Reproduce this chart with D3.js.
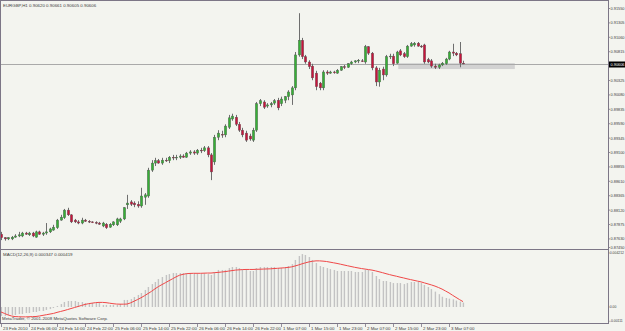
<!DOCTYPE html>
<html>
<head>
<meta charset="utf-8">
<script src="https://cdn.jsdelivr.net/npm/d3@7"></script>
<style>
  body { margin: 0; background: #f3f4ef; }
  svg { display: block; font-family: "Liberation Sans", Arial, sans-serif; }
</style>
</head>
<body>
<svg id="chart" width="625" height="331"></svg>
<script>
// EURGBP H1 candles, 23 Feb 2010 22:00 -> 3 Mar 2010 11:00
const opens = [
  0.8771,0.8765,0.8763,0.8763,0.8766,0.8768,0.8768,0.8773,0.8770,0.8773,
  0.8766,0.8775,0.8771,0.8773,0.8775,0.8778,0.8782,0.8795,0.8799,0.8812,
  0.8804,0.8795,0.8792,0.8790,0.8795,0.8793,0.8792,0.8791,0.8790,0.8785,
  0.8788,0.8783,0.8787,0.8787,0.8793,0.8797,0.8821,0.8826,0.8824,0.8822,
  0.8819,0.8834,0.8836,0.8880,0.8892,0.8896,0.8892,0.8897,0.8896,0.8902,
  0.8901,0.8902,0.8904,0.8902,0.8909,0.8911,0.8909,0.8914,0.8913,0.8918,
  0.8906,0.8894,0.8936,0.8941,0.8940,0.8953,0.8967,0.8970,0.8958,0.8948,
  0.8943,0.8938,0.8931,0.8948,0.8993,0.8996,0.8989,0.8991,0.8994,0.8999,
  0.8993,0.8999,0.9005,0.9008,0.9020,0.9076,0.9101,0.9073,0.9064,0.9057,
  0.9045,0.9028,0.9020,0.9047,0.9045,0.9047,0.9045,0.9050,0.9056,0.9055,
  0.9061,0.9064,0.9066,0.9066,0.9064,0.9090,0.9079,0.9054,0.9030,0.9052,
  0.9042,0.9073,0.9074,0.9062,0.9083,0.9078,0.9073,0.9091,0.9093,0.9096,
  0.9091,0.9093,0.9068,0.9066,0.9057,0.9055,0.9059,0.9061,0.9069,0.9081,
  0.9079,0.9078,0.90620
];
const highs = [
  0.8775,0.8766,0.8766,0.8768,0.8771,0.8775,0.8775,0.8775,0.8775,0.8775,
  0.8777,0.8777,0.8775,0.8790,0.8782,0.8787,0.8797,0.8804,0.8814,0.8816,
  0.8805,0.8797,0.8795,0.8799,0.8797,0.8795,0.8793,0.8793,0.8792,0.8792,
  0.8790,0.8790,0.8793,0.8799,0.8799,0.8817,0.8838,0.8829,0.8827,0.8827,
  0.8850,0.8841,0.8884,0.8897,0.8901,0.8899,0.8901,0.8901,0.8904,0.8906,
  0.8906,0.8907,0.8907,0.8911,0.8914,0.8914,0.8916,0.8918,0.8921,0.8921,
  0.8909,0.8940,0.8948,0.8947,0.8958,0.8974,0.8976,0.8974,0.8962,0.8952,
  0.8947,0.8942,0.8952,0.8996,0.9001,0.8999,0.8994,0.8996,0.9001,0.9003,
  0.9005,0.9006,0.9016,0.9023,0.9081,0.9147,0.9105,0.9076,0.9067,0.9061,
  0.9049,0.9030,0.9050,0.9050,0.9049,0.9049,0.9052,0.9057,0.9059,0.9062,
  0.9066,0.9067,0.9069,0.9069,0.9093,0.9091,0.9081,0.9057,0.9054,0.9056,
  0.9076,0.9078,0.9078,0.9083,0.9086,0.9081,0.9093,0.9098,0.9098,0.9098,
  0.9093,0.9095,0.9071,0.9069,0.9061,0.9061,0.9064,0.9071,0.9083,0.9095,
  0.9081,0.9098,0.90661
];
const lows = [
  0.8761,0.8760,0.8761,0.8761,0.8765,0.8766,0.8766,0.8770,0.8768,0.8766,
  0.8765,0.8770,0.8768,0.8770,0.8773,0.8777,0.8780,0.8794,0.8797,0.8802,
  0.8790,0.8790,0.8788,0.8788,0.8792,0.8790,0.8790,0.8788,0.8787,0.8783,
  0.8780,0.8782,0.8785,0.8785,0.8790,0.8795,0.8814,0.8819,0.8817,0.8816,
  0.8816,0.8821,0.8833,0.8877,0.8887,0.8891,0.8889,0.8894,0.8892,0.8897,
  0.8897,0.8899,0.8901,0.8901,0.8906,0.8906,0.8906,0.8909,0.8911,0.8902,
  0.8863,0.8889,0.8931,0.8935,0.8936,0.8950,0.8964,0.8955,0.8945,0.8936,
  0.8928,0.8930,0.8928,0.8945,0.8989,0.8984,0.8986,0.8987,0.8991,0.8982,
  0.8989,0.8994,0.8999,0.8991,0.9016,0.9073,0.9069,0.9061,0.9052,0.9033,
  0.9016,0.9016,0.9016,0.9042,0.9044,0.9044,0.9044,0.9049,0.9052,0.9054,
  0.9059,0.9062,0.9062,0.9064,0.9061,0.9076,0.9050,0.9023,0.9022,0.9033,
  0.9039,0.9069,0.9057,0.9061,0.9074,0.9071,0.9071,0.9090,0.9090,0.9090,
  0.9088,0.9061,0.9062,0.9054,0.9052,0.9052,0.9057,0.9059,0.9067,0.9074,
  0.9074,0.9055,0.90605
];
const closes = [
  0.8765,0.8763,0.8765,0.8766,0.8768,0.8770,0.8773,0.8771,0.8773,0.8768,
  0.8775,0.8771,0.8773,0.8775,0.8780,0.8783,0.8795,0.8800,0.8812,0.8804,
  0.8792,0.8792,0.8790,0.8795,0.8793,0.8792,0.8791,0.8790,0.8788,0.8790,
  0.8782,0.8788,0.8792,0.8797,0.8797,0.8816,0.8824,0.8822,0.8821,0.8819,
  0.8836,0.8838,0.8880,0.8892,0.8896,0.8892,0.8897,0.8896,0.8902,0.8901,
  0.8902,0.8904,0.8902,0.8909,0.8911,0.8909,0.8914,0.8913,0.8918,0.8906,
  0.8877,0.8936,0.8943,0.8940,0.8955,0.8969,0.8972,0.8958,0.8948,0.8940,
  0.8931,0.8933,0.8948,0.8993,0.8998,0.8987,0.8991,0.8993,0.8998,0.8986,
  0.9001,0.9005,0.9013,0.9020,0.9076,0.9101,0.9073,0.9064,0.9056,0.9037,
  0.9022,0.9020,0.9047,0.9045,0.9047,0.9046,0.9050,0.9056,0.9055,0.9061,
  0.9064,0.9066,0.9067,0.9065,0.9090,0.9079,0.9054,0.9030,0.9050,0.9042,
  0.9073,0.9074,0.9061,0.9081,0.9076,0.9073,0.9091,0.9095,0.9096,0.9091,
  0.9090,0.9064,0.9064,0.9057,0.9055,0.9059,0.9062,0.9069,0.9081,0.9079,
  0.9076,0.9062,0.90606
];

// MACD(12,26,9) main (histogram) and signal, one value per bar
const macdMain = [
  -0.00070,-0.00070,-0.00062,-0.00062,-0.00062,-0.00055,-0.00055,-0.00047,-0.00047,-0.00039,
  -0.00039,-0.00031,-0.00031,-0.00023,-0.00016,-0.00008,0.00008,0.00023,0.00039,0.00047,
  0.00047,0.00047,0.00039,0.00039,0.00031,0.00031,0.00031,0.00031,0.00031,0.00016,
  0.00016,0.00016,0.00016,0.00016,0.00023,0.00055,0.00055,0.00062,0.00078,0.00094,
  0.00109,0.00133,0.00156,0.00179,0.00195,0.00218,0.00234,0.00250,0.00257,0.00265,
  0.00265,0.00265,0.00265,0.00265,0.00265,0.00262,0.00260,0.00260,0.00262,0.00257,
  0.00250,0.00273,0.00289,0.00289,0.00289,0.00304,0.00312,0.00312,0.00304,0.00296,
  0.00289,0.00281,0.00281,0.00304,0.00312,0.00312,0.00312,0.00312,0.00312,0.00304,
  0.00304,0.00312,0.00320,0.00335,0.00367,0.00398,0.00413,0.00406,0.00390,0.00367,
  0.00343,0.00320,0.00312,0.00304,0.00296,0.00289,0.00281,0.00281,0.00281,0.00281,
  0.00281,0.00273,0.00273,0.00273,0.00289,0.00289,0.00273,0.00242,0.00218,0.00203,
  0.00203,0.00195,0.00187,0.00187,0.00187,0.00179,0.00187,0.00195,0.00195,0.00195,
  0.00187,0.00172,0.00156,0.00140,0.00120,0.00100,0.00080,0.00070,0.00065,0.00060,
  0.00050,0.00042,0.000347
];
const macdSignal = [
  -0.00039,-0.00050,-0.00062,-0.00070,-0.00075,-0.00076,-0.00077,-0.00077,-0.00076,-0.00075,
  -0.00074,-0.00070,-0.00065,-0.00060,-0.00055,-0.00050,-0.00042,-0.00035,-0.00028,-0.00020,
  -0.00012,-0.00004,0.00004,0.00012,0.00020,0.00026,0.00030,0.00034,0.00036,0.00036,
  0.00034,0.00030,0.00026,0.00023,0.00022,0.00022,0.00023,0.00032,0.00045,0.00058,
  0.00072,0.00088,0.00105,0.00122,0.00142,0.00160,0.00175,0.00190,0.00205,0.00220,
  0.00235,0.00248,0.00255,0.00260,0.00262,0.00263,0.00263,0.00263,0.00264,0.00265,
  0.00265,0.00268,0.00270,0.00273,0.00276,0.00280,0.00284,0.00288,0.00290,0.00292,
  0.00293,0.00293,0.00293,0.00294,0.00295,0.00296,0.00297,0.00298,0.00300,0.00302,
  0.00304,0.00306,0.00309,0.00313,0.00320,0.00328,0.00337,0.00345,0.00352,0.00357,
  0.00360,0.00360,0.00358,0.00355,0.00350,0.00345,0.00340,0.00334,0.00328,0.00322,
  0.00316,0.00310,0.00305,0.00300,0.00296,0.00292,0.00288,0.00282,0.00275,0.00268,
  0.00260,0.00253,0.00246,0.00240,0.00233,0.00227,0.00220,0.00214,0.00208,0.00202,
  0.00196,0.00188,0.00180,0.00172,0.00163,0.00152,0.00140,0.00125,0.00110,0.00092,
  0.00075,0.00058,0.000419
];

const priceTicks = [0.91550,0.91305,0.91060,0.90815,0.90325,0.90080,0.89835,0.89590,
  0.89345,0.89100,0.88855,0.88610,0.88365,0.88120,0.87875,0.87630];
const priceBottomLabel = 0.87450;
const macdTicks = [0.004212, 0.00, -0.00111];
const macdTickLabels = ["0.004212", "0.00", "-0.00111"];
const timeTickIdx = [0,8,16,24,32,40,48,56,64,72,80,88,96,104,112,120,128];
const timeLabels = ["23 Feb 2010","24 Feb 06:00","24 Feb 14:00","24 Feb 22:00","25 Feb 06:00",
  "25 Feb 14:00","25 Feb 22:00","26 Feb 06:00","26 Feb 14:00","26 Feb 22:00","1 Mar 07:00",
  "1 Mar 15:00","1 Mar 23:00","2 Mar 07:00","2 Mar 15:00","2 Mar 23:00","3 Mar 07:00"];
const bidPrice = 0.90606;
// rectangle object drawn on the chart (bar index range / price range)
const zoneIdx = [113.5, 146.8];
const zonePrice = [0.9052, 0.9062];

const svg = d3.select("#chart");
const right = 608, axisY = 323;

const x = d3.scaleLinear().domain([0, 132]).range([1, 463]);
const y = d3.scaleLinear().domain([0.87450, 0.91550]).range([249.5, 8.5]);
const ym = d3.scaleLinear().domain([-0.00117, 0.00437]).range([322, 251]);

const axisColor = "#7c7686";
const textColor = "#3c3c3c";

svg.append("rect").attr("width", 625).attr("height", 331).attr("fill", "#f3f4ef");

// rectangle object
svg.append("rect")
  .attr("x", x(zoneIdx[0])).attr("width", x(zoneIdx[1]) - x(zoneIdx[0]))
  .attr("y", y(zonePrice[1])).attr("height", y(zonePrice[0]) - y(zonePrice[1]))
  .attr("fill", "#d2d2d2");

// bid line
const bidY = Math.round(y(bidPrice)) + 0.5;
svg.append("line").attr("x1", 1).attr("x2", right).attr("y1", bidY).attr("y2", bidY)
  .attr("stroke", "#a9a9a9").attr("stroke-width", 1);

// candles
const bars = d3.range(opens.length);
const candles = svg.append("g");
candles.selectAll("line.wick").data(bars).join("line")
  .attr("class", "wick")
  .attr("x1", i => Math.round(x(i)) + 0.5).attr("x2", i => Math.round(x(i)) + 0.5)
  .attr("y1", i => y(highs[i])).attr("y2", i => y(lows[i]))
  .attr("stroke", "#6e6e6e").attr("stroke-width", 1);
candles.selectAll("rect.body").data(bars).join("rect")
  .attr("class", "body")
  .attr("x", i => Math.round(x(i)) - 0.7)
  .attr("width", 2.4)
  .attr("y", i => y(Math.max(opens[i], closes[i])))
  .attr("height", i => Math.max(0.8, Math.abs(y(opens[i]) - y(closes[i]))))
  .attr("fill", i => closes[i] >= opens[i] ? "#35b035" : "#c8143c")
  .attr("stroke", "#555").attr("stroke-width", 0.4);

// MACD histogram
const macd = svg.append("g");
macd.selectAll("rect").data(bars).join("rect")
  .attr("x", i => Math.round(x(i)) - 0.3)
  .attr("width", 1.4)
  .attr("y", i => Math.min(ym(0), ym(macdMain[i])))
  .attr("height", i => Math.abs(ym(macdMain[i]) - ym(0)))
  .attr("fill", "#c3c3c3");
macd.append("path")
  .datum(bars)
  .attr("d", d3.line().x(i => x(i)).y(i => ym(macdSignal[i])))
  .attr("fill", "none").attr("stroke", "#f04848").attr("stroke-width", 1);

// frame
const frame = svg.append("g").attr("stroke", axisColor).attr("stroke-width", 1);
frame.append("line").attr("x1", 0.5).attr("x2", 0.5).attr("y1", 0).attr("y2", axisY);
frame.append("line").attr("x1", 0).attr("x2", right).attr("y1", 0.5).attr("y2", 0.5);
frame.append("line").attr("x1", right + 0.5).attr("x2", right + 0.5).attr("y1", 0).attr("y2", axisY);
frame.append("line").attr("x1", 0).attr("x2", right).attr("y1", 249.5).attr("y2", 249.5);
frame.append("line").attr("x1", 0).attr("x2", right + 1).attr("y1", axisY + 0.5).attr("y2", axisY + 0.5);

// right scale labels, squeezed to fit the 16px strip
const fs = 4.4;
const labelX = right + 2.5;
function fitLabel(t) {
  const avail = 624.5 - labelX;
  if (t.node().getComputedTextLength() > avail) {
    t.attr("textLength", avail).attr("lengthAdjust", "spacingAndGlyphs");
  }
}

const pAxis = svg.append("g").attr("font-size", fs).attr("fill", textColor);
priceTicks.concat([priceBottomLabel]).forEach(p => {
  const yy = Math.min(247.5, y(p));
  pAxis.append("line").attr("x1", right).attr("x2", right + 2).attr("y1", yy).attr("y2", yy)
    .attr("stroke", axisColor).attr("stroke-width", 0.8);
  fitLabel(pAxis.append("text").attr("x", labelX).attr("y", yy).attr("dy", "0.35em")
    .text(p.toFixed(5)));
});
svg.append("rect").attr("x", right + 1).attr("y", bidY - 3).attr("width", 16).attr("height", 6)
  .attr("fill", "#000");
fitLabel(svg.append("text").attr("x", labelX).attr("y", bidY).attr("dy", "0.35em")
  .attr("font-size", fs).attr("fill", "#fff").text(bidPrice.toFixed(5)));

// MACD scale (longer labels, smaller type)
const mAxis = svg.append("g").attr("font-size", 3.4).attr("fill", textColor);
macdTicks.forEach((v, k) => {
  const yy = ym(v);
  mAxis.append("line").attr("x1", right).attr("x2", right + 1.5).attr("y1", yy).attr("y2", yy)
    .attr("stroke", axisColor).attr("stroke-width", 0.8);
  mAxis.append("text").attr("x", right + 1.8).attr("y", yy).attr("dy", "0.35em")
    .text(macdTickLabels[k]);
});

// time scale
const tAxis = svg.append("g").attr("font-size", 4.4).attr("fill", textColor);
timeTickIdx.forEach((idx, k) => {
  const xx = Math.round(x(idx)) + 0.5;
  tAxis.append("line").attr("x1", xx).attr("x2", xx).attr("y1", axisY).attr("y2", axisY + 4)
    .attr("stroke", axisColor).attr("stroke-width", 0.8);
  tAxis.append("text").attr("x", xx + 1.5).attr("y", 329.5).text(timeLabels[k]);
});

// labels
svg.append("text").attr("x", 3).attr("y", 6.5).attr("font-size", fs).attr("fill", textColor)
  .text("EURGBP,H1  0.90620 0.90661 0.90605 0.90606");
svg.append("text").attr("x", 3).attr("y", 256).attr("font-size", fs).attr("fill", textColor)
  .text("MACD(12,26,9) 0.000347 0.000419");
svg.append("text").attr("x", 2).attr("y", 320).attr("font-size", 4.4).attr("fill", textColor)
  .text("MetaTrader, © 2001-2008 MetaQuotes Software Corp.");
</script>
</body>
</html>
